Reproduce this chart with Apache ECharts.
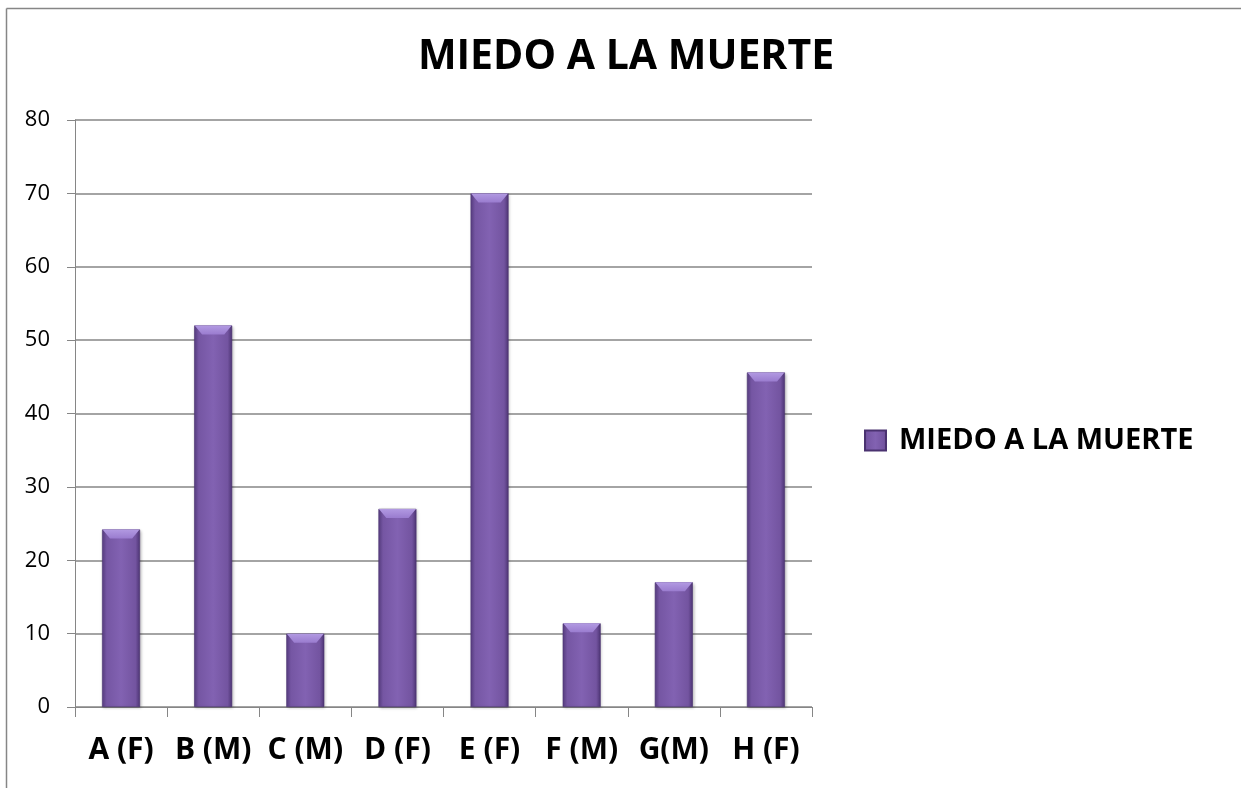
<!DOCTYPE html>
<html>
<head>
<meta charset="utf-8">
<style>
  html, body { margin: 0; padding: 0; background: #fff; }
  #chart { width: 1241px; height: 788px; }
</style>
<script src="https://cdn.jsdelivr.net/npm/echarts@6/dist/echarts.min.js"></script>
</head>
<body>
<div id="chart"></div>
<script>
// Participants and their fear-of-death scores
const categories = ['A (F)', 'B (M)', 'C (M)', 'D (F)', 'E (F)', 'F (M)', 'G(M)', 'H (F)'];
const values = [24.2, 52, 10, 27, 70, 11.4, 17, 45.6];
const seriesName = 'MIEDO A LA MUERTE';
const chartTitle = 'MIEDO A LA MUERTE';

const FONT = '"Open Sans", Lato, sans-serif';
const AXIS_GRAY = '#868686';

const chart = echarts.init(document.getElementById('chart'), null, { renderer: 'canvas' });

// Horizontal shading of each column: dark edges, lighter body
const barFill = new echarts.graphic.LinearGradient(0, 0, 1, 0, [
  { offset: 0, color: '#5a3f85' },
  { offset: 0.12, color: '#7556a3' },
  { offset: 0.5, color: '#8262b2' },
  { offset: 0.88, color: '#7354a0' },
  { offset: 1, color: '#4e3575' }
]);

// Bevelled cap drawn on top of each column
const capPath = 'path://M0,0 L10,0 L8,3 L2,3 Z';
const capFill = new echarts.graphic.LinearGradient(0, 0, 0, 1, [
  { offset: 0, color: '#b29ae2' },
  { offset: 1, color: '#9a7ccf' }
]);

chart.setOption({
  animation: false,
  title: {
    text: chartTitle,
    left: 621,
    textAlign: 'center',
    top: 32,
    textStyle: { fontFamily: FONT, fontSize: 41, fontWeight: 'bold', color: '#000' }
  },
  legend: {
    data: [{ name: seriesName, icon: 'rect' }],
    left: 859,
    top: 421,
    itemWidth: 21,
    itemHeight: 20,
    textStyle: { fontFamily: FONT, fontSize: 29, fontWeight: 'bold', color: '#000', padding: [0, 0, 0, 8] }
  },
  grid: { left: 75, right: 429, top: 120, bottom: 81, containLabel: false },
  xAxis: {
    type: 'category',
    data: categories,
    axisLine: { lineStyle: { color: AXIS_GRAY, width: 1 } },
    axisTick: { show: true, length: 10, lineStyle: { color: AXIS_GRAY } },
    axisLabel: { interval: 0, fontFamily: FONT, fontSize: 30, fontWeight: 'bold', color: '#000', margin: 28 }
  },
  yAxis: {
    type: 'value',
    min: 0,
    max: 80,
    interval: 10,
    axisLine: { show: true, lineStyle: { color: AXIS_GRAY } },
    axisTick: { show: true, length: 8, lineStyle: { color: AXIS_GRAY } },
    axisLabel: { fontFamily: FONT, fontSize: 22, color: '#000', margin: 25 },
    splitLine: { lineStyle: { color: AXIS_GRAY, width: 1.5 } }
  },
  series: [
    {
      name: seriesName,
      type: 'bar',
      data: values,
      barWidth: 38,
      itemStyle: {
        color: barFill,
        borderColor: '#4a3270',
        borderWidth: 0.6,
        shadowColor: 'rgba(0,0,0,0.25)',
        shadowBlur: 3,
        shadowOffsetX: 1,
        shadowOffsetY: 1
      }
    },
    {
      name: seriesName,
      type: 'pictorialBar',
      data: values,
      symbol: capPath,
      symbolSize: [37, 9],
      symbolPosition: 'end',
      symbolOffset: [0, 0],
      z: 5,
      silent: true,
      itemStyle: { color: capFill }
    }
  ],
  graphic: [
    { type: 'line', shape: { x1: 6.5, y1: 8.5, x2: 1241, y2: 8.5 }, style: { stroke: AXIS_GRAY, lineWidth: 1.5 } },
    { type: 'line', shape: { x1: 6.5, y1: 8.5, x2: 6.5, y2: 788 }, style: { stroke: AXIS_GRAY, lineWidth: 1.5 } }
  ]
});
</script>
</body>
</html>
